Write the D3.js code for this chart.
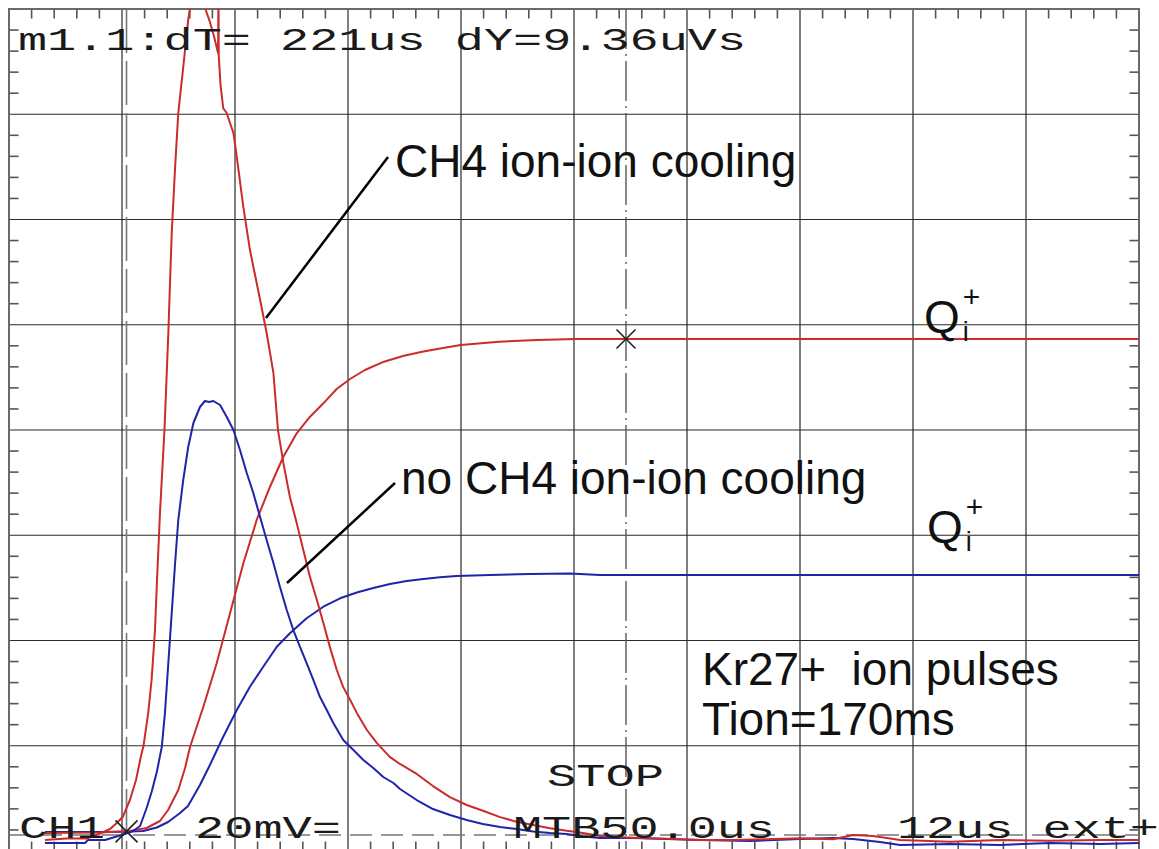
<!DOCTYPE html>
<html>
<head>
<meta charset="utf-8">
<script src="https://cdn.jsdelivr.net/npm/d3@7"></script>
<style>
  html, body { margin: 0; padding: 0; background: #fff; }
  svg { display: block; }
  .mono { font-family: "Liberation Mono", "Courier New", monospace; fill: #1a1a1a; }
  .sans { font-family: "Liberation Sans", Arial, sans-serif; fill: #111; }
</style>
</head>
<body>
<svg id="scope" width="1159" height="849"></svg>
<script>
// Screen settings: MTB 50 µs/div (10 div), CH1 20 mV/div (8 div), trigger at t = 0
const timeDomain = [-52, 448];      // µs
const voltDomain = [-3.04, 156.96]; // mV
const timeDivs = d3.range(0, 11).map(i => timeDomain[0] + 50 * i);
const voltDivs = d3.range(0, 9).map(i => voltDomain[0] + 20 * i);

// Cursor m1.1 and trigger position (µs)
const triggerTime = 0;
const cursorTime = 221;

// Ion pulse, CH4 ion-ion cooling  [t µs, mV]
const pulseCooling = [
  [-36.1, -0.95], [-26.5, -0.67], [-17.6, -0.67], [-11.7, 0.29], [-7.3, 1.14], [-4.3, 2.28],
  [-1.6, 3.48], [1.5, 6.65], [4.2, 10.45], [6.4, 15.0], [7.5, 16.9], [9.6, 23.2], [11.1, 29.5],
  [12.6, 39.0], [13.5, 48.5], [14.8, 61.2], [16.8, 77.0], [18.5, 95.4], [20.0, 114.4],
  [21.5, 126.9], [22.9, 137.2], [25.1, 145.9], [27.3, 154.9], [28.1, 157.2], [29.4, 166.3],
  [31.6, 170.1], [33.4, 164.4], [34.7, 157.2], [36.9, 154.5], [38.7, 151.8], [40.5, 148.6],
  [40.7, 160.6], [40.8, 148.2], [41.6, 142.5], [42.8, 138.1], [44.3, 137.2], [47.3, 133.4],
  [48.8, 128.8], [51.7, 119.3], [54.6, 111.2], [59.1, 101.7], [62.0, 95.4], [65.0, 87.8],
  [67.0, 77.0], [69.4, 70.7], [72.3, 64.2], [75.3, 59.3], [78.2, 54.2], [81.2, 49.0],
  [84.2, 44.7], [87.1, 40.3], [90.0, 35.7], [93.0, 31.4], [95.9, 28.1], [98.9, 25.7],
  [101.9, 23.2], [106.3, 20.0], [110.7, 17.5], [116.6, 14.8], [121.0, 13.5], [128.4, 11.6],
  [135.6, 9.3], [143.1, 7.2], [150.5, 5.7], [157.7, 4.6], [165.3, 3.4], [172.7, 2.5],
  [179.9, 1.9], [187.4, 1.3], [194.8, 0.8], [202.0, 0.4], [209.5, -0.2], [224.1, -0.5],
  [239.0, -0.7], [253.8, -0.95], [268.4, -0.95], [283.0, -0.8], [298.0, -0.6], [312.6, -0.8],
  [321.5, 0.0], [330.3, -0.2], [342.3, -0.95], [364.4, -1.3], [386.5, -0.95], [408.6, -1.1],
  [430.8, -0.95], [448.0, -0.95]
];

// Ion pulse, no CH4 ion-ion cooling  [t µs, mV]
const pulseNoCooling = [
  [-36.1, -1.52], [-18.4, -1.52], [-17.0, -0.95], [-9.5, -0.95], [-5.1, -0.38], [-0.7, 0.19],
  [2.9, 0.76], [6.0, 1.71], [8.9, 5.13], [11.1, 8.17], [13.4, 11.97], [15.6, 16.72],
  [17.0, 23.18], [18.5, 32.68], [20.0, 42.18], [21.5, 51.69], [22.9, 59.86], [25.1, 67.46],
  [27.3, 73.73], [29.6, 78.29], [32.5, 81.33], [34.7, 82.47], [36.5, 82.28], [38.4, 82.47],
  [41.4, 81.71], [44.3, 79.49], [47.3, 76.96], [50.2, 73.16], [53.2, 68.79], [56.1, 64.99],
  [59.1, 60.43], [62.0, 56.06], [65.0, 51.69], [67.9, 47.12], [70.9, 42.75], [73.8, 38.95],
  [76.8, 35.72], [79.7, 32.68], [82.7, 29.45], [85.6, 26.22], [88.6, 23.75], [91.5, 21.28],
  [95.9, 18.05], [100.4, 16.15], [104.8, 14.25], [109.2, 12.73], [113.6, 11.02], [118.1, 9.88],
  [121.0, 8.74], [128.4, 6.65], [135.6, 4.94], [143.1, 3.80], [150.5, 2.85], [157.7, 2.09],
  [165.3, 1.52], [172.7, 1.14], [179.9, 0.67], [187.4, 0.38], [194.8, 0.19], [202.0, -0.29],
  [209.5, -0.57], [224.1, -0.57], [239.0, -0.76], [253.8, -0.95], [275.9, -1.14], [298.0, -0.76],
  [312.6, -0.57], [321.5, -0.76], [333.4, -1.33], [342.3, -1.90], [364.4, -1.71], [386.5, -1.90],
  [408.6, -1.52], [430.8, -1.71], [448.0, -1.52]
];

// Integrated charge Q_i+, CH4 ion-ion cooling  [t µs, mV]
const chargeCooling = [
  [-36.1, 0.38], [-11.7, 0.48], [1.5, 0.76], [8.9, 1.33], [14.8, 2.66], [18.4, 4.75],
  [22.9, 8.55], [25.9, 12.73], [28.1, 16.72], [34.0, 24.38], [39.9, 32.63], [45.8, 42.13],
  [51.7, 51.63], [57.6, 59.86], [63.5, 66.18], [69.4, 71.88], [75.3, 76.33], [81.2, 79.49],
  [87.1, 82.03], [93.0, 84.75], [98.9, 86.65], [105.5, 88.36], [113.9, 89.94], [122.3, 91.02],
  [130.8, 91.84], [139.4, 92.48], [147.9, 93.11], [164.8, 93.74], [181.6, 94.06], [198.8, 94.25],
  [221.0, 94.25], [448.0, 94.25]
];

// Integrated charge Q_i+, no CH4 ion-ion cooling  [t µs, mV]
const chargeNoCooling = [
  [-36.1, 0.57], [-11.7, 0.57], [-1.4, 0.63], [7.4, 0.76], [13.4, 1.43], [18.4, 2.47],
  [23.7, 4.18], [27.2, 5.51], [32.5, 9.50], [36.9, 13.30], [42.3, 18.24], [48.8, 23.75],
  [54.6, 28.18], [60.5, 31.98], [66.5, 35.78], [72.3, 38.33], [79.7, 41.18], [87.1, 43.38],
  [94.5, 44.98], [101.9, 46.08], [109.2, 46.93], [116.6, 47.69], [124.0, 48.26], [131.3, 48.64],
  [138.7, 48.97], [146.1, 49.22], [160.8, 49.41], [178.5, 49.60], [196.2, 49.69], [209.5, 49.41],
  [448.0, 49.41]
];

const svg = d3.select("#scope");
const scrLeft = 9, scrRight = 1139, scrTop = 9, scrBottom = 851;

const x = d3.scaleLinear().domain(timeDomain).range([scrLeft, scrRight]);
const y = d3.scaleLinear().domain(voltDomain).range([scrBottom, scrTop]);

svg.append("defs").append("clipPath").attr("id", "screen")
  .append("rect").attr("x", scrLeft).attr("y", scrTop)
  .attr("width", scrRight - scrLeft).attr("height", scrBottom - scrTop);

// graticule
const grid = svg.append("g");
grid.selectAll("line.gx").data(timeDivs.slice(1, -1)).join("line")
  .attr("x1", d => x(d)).attr("x2", d => x(d)).attr("y1", scrTop).attr("y2", scrBottom)
  .attr("stroke", "#3a3a3a").attr("stroke-width", 1.3);
grid.selectAll("line.gy").data(voltDivs.slice(1, -1)).join("line")
  .attr("y1", d => y(d)).attr("y2", d => y(d)).attr("x1", scrLeft).attr("x2", scrRight)
  .attr("stroke", "#2a2a2a").attr("stroke-width", 1.2);

// minor ticks on the frame
const minorT = d3.range(0, 51).filter(i => i % 5 !== 0).map(i => timeDomain[0] + 10 * i);
const minorV = d3.range(0, 41).filter(i => i % 5 !== 0).map(i => voltDomain[0] + 4 * i);
const tickLen = 9.5;
grid.selectAll("line.tt").data(minorT).join("line")
  .attr("x1", d => x(d)).attr("x2", d => x(d)).attr("y1", scrTop).attr("y2", scrTop + tickLen)
  .attr("stroke", "#555").attr("stroke-width", 1.6);
grid.selectAll("line.tb").data(minorT).join("line")
  .attr("x1", d => x(d)).attr("x2", d => x(d)).attr("y1", scrBottom).attr("y2", scrBottom - tickLen)
  .attr("stroke", "#555").attr("stroke-width", 1.6);
grid.selectAll("line.tl").data(minorV).join("line")
  .attr("y1", d => y(d)).attr("y2", d => y(d)).attr("x1", scrLeft).attr("x2", scrLeft + tickLen)
  .attr("stroke", "#555").attr("stroke-width", 1.6);
grid.selectAll("line.tr").data(minorV).join("line")
  .attr("y1", d => y(d)).attr("y2", d => y(d)).attr("x1", scrRight).attr("x2", scrRight - tickLen)
  .attr("stroke", "#555").attr("stroke-width", 1.6);

// frame
grid.append("rect").attr("x", scrLeft).attr("y", scrTop)
  .attr("width", scrRight - scrLeft).attr("height", scrBottom - scrTop)
  .attr("fill", "none").attr("stroke", "#6a6a6a").attr("stroke-width", 2);

// ground level, trigger and cursor markers
grid.append("line").attr("x1", scrLeft).attr("x2", scrRight).attr("y1", y(0)).attr("y2", y(0))
  .attr("stroke", "#777").attr("stroke-width", 1.5).attr("stroke-dasharray", "22,9");
grid.append("line").attr("x1", x(triggerTime)).attr("x2", x(triggerTime)).attr("y1", scrTop).attr("y2", scrBottom)
  .attr("stroke", "#777").attr("stroke-width", 1.6).attr("stroke-dasharray", "44,8");
grid.append("line").attr("x1", x(cursorTime)).attr("x2", x(cursorTime)).attr("y1", scrTop).attr("y2", scrBottom)
  .attr("stroke", "#555").attr("stroke-width", 1.4).attr("stroke-dasharray", "40,5,2,5");

// traces
const line = d3.line().x(d => x(d[0])).y(d => y(d[1]));
const traces = svg.append("g").attr("clip-path", "url(#screen)")
  .attr("fill", "none").attr("stroke-linejoin", "round");
traces.append("path").datum(chargeNoCooling).attr("d", line).attr("stroke", "#1f24a8").attr("stroke-width", 2);
traces.append("path").datum(chargeCooling).attr("d", line).attr("stroke", "#cc2b2b").attr("stroke-width", 2);
traces.append("path").datum(pulseNoCooling).attr("d", line).attr("stroke", "#1f24a8").attr("stroke-width", 2);
traces.append("path").datum(pulseCooling).attr("d", line).attr("stroke", "#cc2b2b").attr("stroke-width", 2);

// cross markers
function cross(cx, cy, r) {
  svg.append("path")
    .attr("d", `M${cx - r},${cy - r}L${cx + r},${cy + r}M${cx - r},${cy + r}L${cx + r},${cy - r}`)
    .attr("stroke", "#222").attr("stroke-width", 1.6).attr("fill", "none");
}
const cursorValue = chargeCooling.find(d => d[0] === cursorTime)[1];
cross(x(cursorTime), y(cursorValue), 9.5);
cross(x(triggerTime), y(0.7), 11);

// scope readouts
function mono(txt, x0, base, len, size) {
  svg.append("text").attr("class", "mono").attr("x", x0).attr("y", base)
    .attr("font-size", size).attr("textLength", len).attr("lengthAdjust", "spacingAndGlyphs")
    .style("white-space", "pre").text(txt);
}
mono("m1.1:dT= 221us dY=9.36uVs", 18, 50, 728, 31);
mono("STOP", 547, 786, 117, 31);
mono("CH1", 19, 838, 86, 31);
mono("20mV=", 195, 838, 146, 31);
mono("MTB50.0us", 513, 838, 262, 31);
mono("12us ext+", 897, 838, 262, 31);

// annotations
svg.append("text").attr("class", "sans").attr("x", 395).attr("y", 177).attr("font-size", 46)
  .text("CH4 ion-ion cooling");
svg.append("text").attr("class", "sans").attr("x", 401).attr("y", 494).attr("font-size", 46)
  .text("no CH4 ion-ion cooling");
svg.append("line").attr("x1", 388).attr("y1", 157).attr("x2", 266).attr("y2", 318)
  .attr("stroke", "#000").attr("stroke-width", 2.5);
svg.append("line").attr("x1", 395).attr("y1", 483).attr("x2", 287).attr("y2", 583)
  .attr("stroke", "#000").attr("stroke-width", 2.5);

function qLabel(x0, base) {
  const t = svg.append("text").attr("class", "sans").attr("x", x0).attr("y", base).attr("font-size", 46);
  t.append("tspan").text("Q");
  t.append("tspan").attr("font-size", 27).attr("dx", 3).attr("dy", 8).text("i");
  t.append("tspan").attr("font-size", 30).attr("dx", -6).attr("dy", -34).text("+");
}
qLabel(924, 333);
qLabel(927, 543);

svg.append("text").attr("class", "sans").attr("x", 702).attr("y", 685).attr("font-size", 46)
  .style("white-space", "pre").text("Kr27+  ion pulses");
svg.append("text").attr("class", "sans").attr("x", 702).attr("y", 735).attr("font-size", 46)
  .text("Tion=170ms");
</script>
</body>
</html>
